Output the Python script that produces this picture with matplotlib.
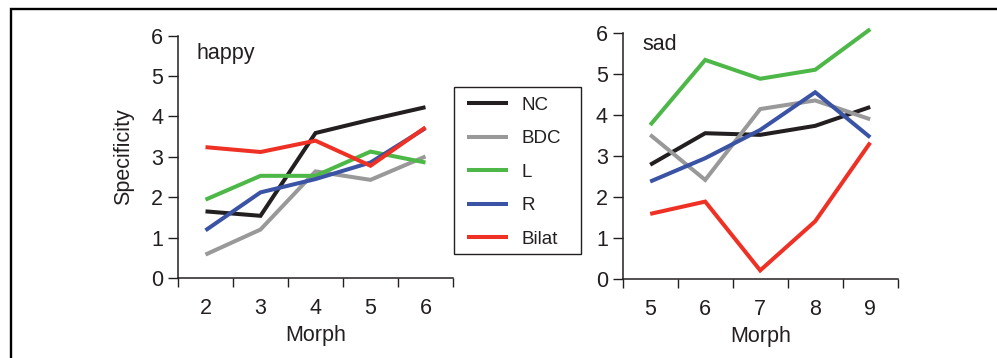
import matplotlib
matplotlib.use("Agg")
import matplotlib.pyplot as plt
from matplotlib.lines import Line2D
from matplotlib.patches import Rectangle

plt.rcParams['font.family'] = ['Liberation Sans', 'DejaVu Sans']

series_names = ["NC", "BDC", "L", "R", "Bilat"]
series_colors = ["#231f20", "#999999", "#4db848", "#3a53a4", "#ee3124"]

happy_morph = [2, 3, 4, 5, 6]
happy_NC = [1.65, 1.54, 3.59, 3.92, 4.23]
happy_BDC = [0.58, 1.20, 2.64, 2.43, 3.01]
happy_L = [1.94, 2.53, 2.53, 3.13, 2.86]
happy_R = [1.18, 2.12, 2.45, 2.86, 3.71]
happy_Bilat = [3.24, 3.12, 3.40, 2.78, 3.73]

sad_morph = [5, 6, 7, 8, 9]
sad_NC = [2.79, 3.56, 3.52, 3.74, 4.20]
sad_BDC = [3.52, 2.42, 4.15, 4.36, 3.90]
sad_L = [3.76, 5.35, 4.89, 5.11, 6.10]
sad_R = [2.38, 2.95, 3.64, 4.56, 3.46]
sad_Bilat = [1.59, 1.89, 0.21, 1.41, 3.33]

yticks = [0, 1, 2, 3, 4, 5, 6]

W, H = 997, 358
fig = plt.figure(figsize=(W / 100, H / 100), dpi=100)
TXT = "#231f20"
FS = 15.5


def px_axes(x0, x1, y0, y1):
    return fig.add_axes([x0 / W, 1 - y1 / H, (x1 - x0) / W, (y1 - y0) / H])


ax1 = px_axes(178, 453, 35.7, 278)
ax2 = px_axes(622.7, 897.7, 33.3, 279)

panels = [
    (ax1, happy_morph, [happy_NC, happy_BDC, happy_L, happy_R, happy_Bilat], "happy", (196, 53)),
    (ax2, sad_morph, [sad_NC, sad_BDC, sad_L, sad_R, sad_Bilat], "sad", (642, 45)),
]

handles = []
for ax, xs, ys_list, title, tpos in panels:
    for name, col, ys in zip(series_names, series_colors, ys_list):
        ln, = ax.plot(xs, ys, color=col, lw=2.9, solid_capstyle='butt',
                      solid_joinstyle='miter', label=name, clip_on=False)
        if ax is ax1:
            handles.append(ln)
    ax.set_xlim(xs[0] - 0.5, xs[-1] + 0.5)
    ax.set_ylim(0, 6)
    ax.set_xticks(xs)
    ax.set_xticklabels([str(v) for v in xs])
    ax.set_xticks([v - 0.5 for v in xs] + [xs[-1] + 0.5], minor=True)
    ax.set_yticks(yticks)
    ax.set_yticklabels([str(v) for v in yticks])
    ax.tick_params(axis='x', which='major', length=0, pad=14.5, labelsize=FS, labelcolor=TXT)
    ax.tick_params(axis='x', which='minor', length=6.5, width=1.0, direction='out', color=TXT)
    ax.tick_params(axis='y', which='major', length=7.2, width=1.0, direction='out',
                   pad=3.5, labelsize=FS, labelcolor=TXT, color=TXT)
    for s in ['top', 'right']:
        ax.spines[s].set_visible(False)
    for s in ['left', 'bottom']:
        ax.spines[s].set_linewidth(1.1)
        ax.spines[s].set_color(TXT)
    ax.set_xlabel("Morph", fontsize=FS, color=TXT, labelpad=4)
    ax.patch.set_alpha(0)
    fig.text(tpos[0] / W, 1 - tpos[1] / H, title, fontsize=FS, color=TXT,
             ha='left', va='center')

ax1.set_ylabel("Specificity", fontsize=FS, color=TXT, labelpad=12.5)

leg = fig.legend(handles=handles, labels=series_names, loc='upper left',
                 bbox_to_anchor=(461 / W, 1 - 91 / H), bbox_transform=fig.transFigure,
                 frameon=False, fontsize=13.5, handlelength=2.18,
                 handletextpad=0.75, labelspacing=0.87, borderaxespad=0, borderpad=0.3)
for t in leg.get_texts():
    t.set_color(TXT)

fig.add_artist(Rectangle((454 / W, 1 - 254 / H), 127 / W, 167 / H,
                         transform=fig.transFigure, fill=False, lw=1.0, ec=TXT))
fig.add_artist(Line2D([11 / W, 11 / W, 1.0], [0.0, 1 - 9 / H, 1 - 9 / H],
                      transform=fig.transFigure, color='black', lw=1.7,
                      solid_joinstyle='miter'))

fig.savefig("out.png", dpi=100)
